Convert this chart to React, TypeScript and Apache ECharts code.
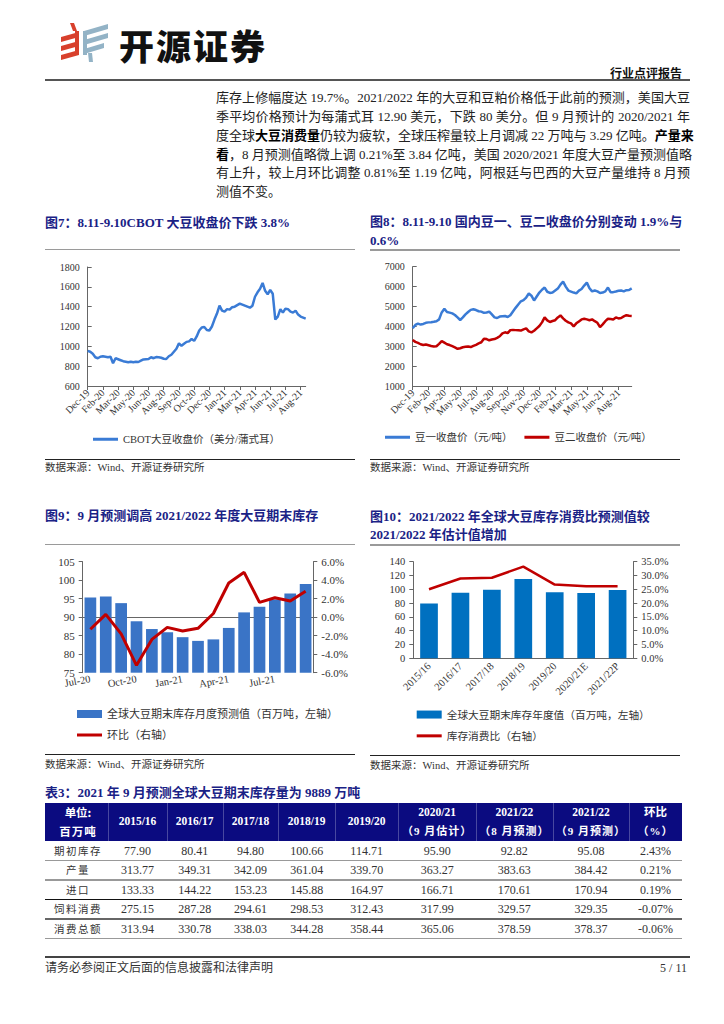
import React, { useEffect, useRef } from 'react';
import * as echarts from 'echarts';

const SERIF = "'Liberation Serif', 'Noto Sans CJK SC', serif";
const CJK = "'Noto Sans CJK SC', 'Liberation Serif', sans-serif";
const NAVY = '#1a2286';
const BLUE_LINE = '#3a7bd5';
const RED = '#c00000';

// ---------------- data ----------------
// 图7 CBOT 大豆收盘价
const cbotTicks = ['Dec-19', 'Feb-20', 'Mar-20', 'May-20', 'Jun-20', 'Aug-20', 'Sep-20', 'Oct-20', 'Dec-20', 'Jan-21', 'Mar-21', 'Apr-21', 'Jun-21', 'Jul-21', 'Aug-21'];
const cbotPrice = [
  955, 945, 925, 890, 880, 895, 900, 895, 890, 895,
  830, 880, 870, 860, 850, 845, 840, 845, 840, 845,
  842, 855, 868, 870, 872, 890, 880, 892, 890, 885,
  875, 872, 900, 915, 945, 975, 1030, 1005, 1025, 1045,
  1050, 1075, 1055, 1100, 1160, 1190, 1195, 1165, 1160, 1200,
  1270, 1330, 1410, 1360, 1350, 1375, 1370, 1395, 1400, 1415,
  1430, 1420, 1410, 1400, 1390, 1410, 1500, 1545, 1580, 1640,
  1560, 1525, 1570, 1530, 1270, 1300, 1375, 1340, 1380, 1375,
  1350, 1340, 1360, 1320, 1300, 1290, 1280,
];

// 图8 豆一、豆二收盘价
const dceTicks = ['Dec-19', 'Feb-20', 'Apr-20', 'May-20', 'Jul-20', 'Aug-20', 'Sep-20', 'Nov-20', 'Dec-20', 'Feb-21', 'Mar-21', 'May-21', 'Jun-21', 'Aug-21'];
const soyNo1 = [
  3900, 4070, 4140, 4090, 4120, 4180, 4200, 4210, 4230, 4260,
  4350, 4700, 4880, 4720, 4690, 4650, 4570, 4450, 4320, 4450,
  4600, 4720, 4830, 4860, 4820, 4760, 4740, 4680, 4700, 4740,
  4600, 4450, 4420, 4490, 4510, 4520, 4470, 4560, 4750, 4930,
  5100, 5260, 5320, 5450, 5650, 5540, 5300, 5500, 5700, 5840,
  5950, 5740, 5680, 5700, 5800, 5900, 6100, 6250, 6000, 5800,
  5750, 5700, 5660, 5800, 5880, 6050, 6200, 5920, 5760, 5800,
  5760, 5680, 5700, 5760, 5950, 5720, 5720, 5750, 5790, 5800,
  5760, 5820, 5830, 5910,
];
const soyNo2 = [
  3310, 3220, 3170, 3100, 3060, 3090, 3050, 3010, 2990, 3000,
  3120, 3260, 3180, 3100, 3060, 3000, 2940, 2870, 2900, 2950,
  2970, 2990, 2960, 3020, 3070, 3140, 3200, 3380, 3360, 3300,
  3340, 3360, 3420, 3500, 3650, 3700, 3660, 3810, 3820, 3810,
  3800, 3790, 3850, 3900, 3750, 3700, 3780, 3900, 4020, 4200,
  4450, 4300, 4220, 4270, 4310, 4450, 4550, 4400, 4280, 4200,
  4150, 4000, 4150, 4250, 4350, 4380, 4350, 4310, 4350, 4260,
  4180, 3960, 4100, 4260, 4380, 4370, 4350, 4450, 4400, 4420,
  4500, 4560, 4530, 4520,
];

// 图9 全球大豆期末库存月度预测
const stockMonths = ['Jul-20', 'Aug-20', 'Sep-20', 'Oct-20', 'Nov-20', 'Dec-20', 'Jan-21', 'Feb-21', 'Mar-21', 'Apr-21', 'May-21', 'Jun-21', 'Jul-21', 'Aug-21', 'Sep-21'];
const stockForecast = [95.3, 95.6, 93.8, 88.9, 86.8, 85.9, 84.6, 83.6, 84.0, 87.1, 91.3, 92.8, 94.8, 96.4, 99.0];
const stockMoM = [-1.3, 0.3, -1.8, -5.2, -2.4, -1.1, -1.5, -1.2, 0.4, 3.7, 4.85, 1.6, 2.1, 1.75, 2.8];

// 图10 全球大豆期末库存年度值 / 库存消费比
const seasons = ['2015/16', '2016/17', '2017/18', '2018/19', '2019/20', '2020/21E', '2021/22P'];
const seasonEndStock = [79.5, 95.0, 99.5, 114.8, 95.6, 94.8, 98.9];
const stockToUse = [25.0, 28.9, 29.2, 33.2, 26.7, 26.1, 26.1];

// 表3
const tableYears = ['2015/16', '2016/17', '2017/18', '2018/19', '2019/20', '2020/21', '2021/22', '2021/22', '环比'];
const tableYearNotes = ['', '', '', '', '', '（9 月估计）', '（8 月预测）', '（9 月预测）', '（%）'];
const tableRowNames = ['期初库存', '产量', '进口', '饲料消费', '消费总额'];
const beginStock = ['77.90', '80.41', '94.80', '100.66', '114.71', '95.90', '92.82', '95.08', '2.43%'];
const production = ['313.77', '349.31', '342.09', '361.04', '339.70', '363.27', '383.63', '384.42', '0.21%'];
const imports = ['133.33', '144.22', '153.23', '145.88', '164.97', '166.71', '170.61', '170.94', '0.19%'];
const feedUse = ['275.15', '287.28', '294.61', '298.53', '312.43', '317.99', '329.57', '329.35', '-0.07%'];
const totalUse = ['313.94', '330.78', '338.03', '344.28', '358.44', '365.06', '378.59', '378.37', '-0.06%'];
const tableRows = [beginStock, production, imports, feedUse, totalUse];

// ---------------- helpers ----------------
function EChart({ option, box }: any) {
  const ref = useRef<HTMLDivElement>(null);
  useEffect(() => {
    const chart = echarts.init(ref.current as HTMLDivElement, null, { renderer: 'svg' });
    chart.setOption(option);
    return () => chart.dispose();
  }, []);
  return (
    <div
      ref={ref}
      style={{ position: 'absolute', left: box[0], top: box[1], width: box[2], height: box[3] }}
    />
  );
}

function Txt({ x, y, size, children, weight = 400, color = '#222', align = 'left', w = 0, ls = 0, font = SERIF }: any) {
  const h = Math.round(size * 1.5);
  const st: any = {
    position: 'absolute', top: y - h / 2, height: h, lineHeight: h + 'px', fontSize: size,
    fontWeight: weight, color, fontFamily: font, whiteSpace: 'nowrap', letterSpacing: ls,
  };
  if (align === 'left') st.left = x;
  else if (align === 'right') st.right = 724 - x;
  else { st.left = x - w / 2; st.width = w; st.textAlign = 'center'; }
  return <div style={st}>{children}</div>;
}

function HLine({ x1, x2, y, t = 1, color = '#000' }: any) {
  return <div style={{ position: 'absolute', left: x1, top: y - t / 2, width: x2 - x1, height: t, background: color }} />;
}

const lbl = { fontFamily: SERIF, color: '#333', fontSize: 10 };
const axLine = { show: true, lineStyle: { color: '#666', width: 1 } };
const legendText = { fontFamily: SERIF, fontSize: 10.5, color: '#333' };
const plain = (v: number) => String(v);
const pct = (v: number) => v.toFixed(1) + '%';

function tickCats(n: number, ticks: string[], step: number) {
  return Array.from({ length: n }, (_, i) => (i % step === 0 && ticks[i / step] ? ticks[i / step] : ' ' + i));
}

const name7 = 'CBOT大豆收盘价（美分/蒲式耳）';
const name8a = '豆一收盘价（元/吨）';
const name8b = '豆二收盘价（元/吨）';
const name9a = '全球大豆期末库存月度预测值（百万吨，左轴）';
const name9b = '环比（右轴）';
const name10a = '全球大豆期末库存年度值（百万吨，左轴）';
const name10b = '库存消费比（右轴）';

const opt7 = {
  animation: false,
  grid: { left: 47.7, top: 15, width: 218, height: 119, outerBoundsMode: 'none' },
  xAxis: {
    type: 'category', boundaryGap: false, data: tickCats(cbotPrice.length, cbotTicks, 6),
    axisLine: axLine,
    axisTick: { interval: (i: number) => i % 6 === 0, length: 4, lineStyle: { color: '#666' } },
    axisLabel: { ...lbl, interval: (i: number) => i % 6 === 0, rotate: 45, margin: 5 },
  },
  yAxis: {
    type: 'value', min: 600, max: 1800, interval: 200, axisLine: axLine,
    axisTick: { show: true, inside: true, length: 4, lineStyle: { color: '#666' } },
    axisLabel: { ...lbl, margin: 8, formatter: plain }, splitLine: { show: false },
  },
  legend: { left: 53, top: 182, padding: 0, itemWidth: 25, itemHeight: 3, textStyle: legendText, data: [{ name: name7, icon: 'rect' }] },
  series: [{ name: name7, type: 'line', data: cbotPrice, symbol: 'none', lineStyle: { color: BLUE_LINE, width: 2.5 }, itemStyle: { color: BLUE_LINE } }],
};

const opt8 = {
  animation: false,
  grid: { left: 47.7, top: 14.7, width: 219, height: 119.3, outerBoundsMode: 'none' },
  xAxis: {
    type: 'category', boundaryGap: false, data: tickCats(soyNo1.length, dceTicks, 6),
    axisLine: axLine,
    axisTick: { interval: (i: number) => i % 6 === 0, length: 4, lineStyle: { color: '#666' } },
    axisLabel: { ...lbl, interval: (i: number) => i % 6 === 0, rotate: 45, margin: 5 },
  },
  yAxis: {
    type: 'value', min: 1000, max: 7000, interval: 1000, axisLine: axLine,
    axisTick: { show: true, inside: true, length: 4, lineStyle: { color: '#666' } },
    axisLabel: { ...lbl, margin: 8, formatter: plain }, splitLine: { show: false },
  },
  legend: {
    left: 20, top: 180, padding: 0, itemWidth: 25, itemHeight: 3, itemGap: 12, textStyle: legendText,
    data: [{ name: name8a, icon: 'rect' }, { name: name8b, icon: 'rect' }],
  },
  series: [
    { name: name8a, type: 'line', data: soyNo1, symbol: 'none', lineStyle: { color: BLUE_LINE, width: 2.5 }, itemStyle: { color: BLUE_LINE } },
    { name: name8b, type: 'line', data: soyNo2, symbol: 'none', lineStyle: { color: RED, width: 2.5 }, itemStyle: { color: RED } },
  ],
};

const opt9 = {
  animation: false,
  grid: { left: 42.7, top: 13.7, width: 230.6, height: 111, outerBoundsMode: 'none' },
  xAxis: {
    type: 'category', data: stockMonths, axisLine: axLine, axisTick: { show: false },
    axisLabel: { ...lbl, fontSize: 10.5, interval: 2, rotate: 10, margin: 6 },
  },
  yAxis: [
    {
      type: 'value', min: 75, max: 105, interval: 5, axisLine: axLine,
      axisTick: { show: true, length: 4, lineStyle: { color: '#666' } },
      axisLabel: { ...lbl, fontSize: 11, margin: 8, formatter: plain }, splitLine: { show: false },
    },
    {
      type: 'value', position: 'right', min: -6, max: 6, interval: 2, axisLine: axLine,
      axisTick: { show: true, length: 4, lineStyle: { color: '#666' } },
      axisLabel: { ...lbl, fontSize: 11, margin: 8, formatter: pct }, splitLine: { show: false },
    },
  ],
  legend: [
    {
      left: 37, top: 160.5, padding: 0, itemWidth: 25, itemHeight: 8,
      textStyle: { ...legendText, fontSize: 11 }, data: [{ name: name9a, icon: 'rect' }],
    },
    {
      left: 37, top: 181.5, padding: 0, itemWidth: 25, itemHeight: 3,
      textStyle: { ...legendText, fontSize: 11 }, data: [{ name: name9b, icon: 'rect' }],
    },
  ],
  series: [
    { name: name9a, type: 'bar', data: stockForecast, barWidth: 11.7, itemStyle: { color: '#3a74c6' } },
    { name: name9b, type: 'line', yAxisIndex: 1, data: stockMoM, symbol: 'none', lineStyle: { color: RED, width: 3 }, itemStyle: { color: RED } },
  ],
};

const opt10 = {
  animation: false,
  grid: { left: 48.3, top: 13.7, width: 220, height: 96.6, outerBoundsMode: 'none' },
  xAxis: {
    type: 'category', data: seasons, axisLine: axLine, axisTick: { show: false },
    axisLabel: { ...lbl, fontSize: 10.5, interval: 0, rotate: 45, margin: 6 },
  },
  yAxis: [
    {
      type: 'value', min: 0, max: 140, interval: 20, axisLine: axLine,
      axisTick: { show: true, length: 4, lineStyle: { color: '#666' } },
      axisLabel: { ...lbl, fontSize: 10.5, margin: 8, formatter: plain }, splitLine: { show: false },
    },
    {
      type: 'value', position: 'right', min: 0, max: 35, interval: 5, axisLine: axLine,
      axisTick: { show: true, length: 4, lineStyle: { color: '#666' } },
      axisLabel: { ...lbl, fontSize: 10.5, margin: 8, formatter: pct }, splitLine: { show: false },
    },
  ],
  legend: [
    {
      left: 51.7, top: 161.2, padding: 0, itemWidth: 25, itemHeight: 8,
      textStyle: { ...legendText, fontSize: 10.7 }, data: [{ name: name10a, icon: 'rect' }],
    },
    {
      left: 51.7, top: 182.5, padding: 0, itemWidth: 25, itemHeight: 3,
      textStyle: { ...legendText, fontSize: 10.7 }, data: [{ name: name10b, icon: 'rect' }],
    },
  ],
  series: [
    { name: name10a, type: 'bar', data: seasonEndStock, barWidth: 17.7, itemStyle: { color: '#0070c0' } },
    { name: name10b, type: 'line', yAxisIndex: 1, data: stockToUse, symbol: 'none', lineStyle: { color: RED, width: 2.5 }, itemStyle: { color: RED } },
  ],
};

const colEdges = [45, 108.3, 166.7, 222.7, 278.3, 335, 398.3, 476, 552.7, 629.3, 681.7];
const rowSepColors = ['#999', '#999', '#111', '#666', '#999'];

function ParaLine({ y, children, last = false }: any) {
  return (
    <div
      style={{
        position: 'absolute', left: 216, top: y - 9.45, width: 474, height: 18.9, lineHeight: '18.9px',
        fontSize: 13, fontFamily: SERIF, color: '#222', whiteSpace: 'nowrap',
        textAlign: last ? 'left' : 'justify', textAlignLast: last ? 'left' : 'justify',
      } as any}
    >
      {children}
    </div>
  );
}

export default function App() {
  const B = (s: string) => <b style={{ fontWeight: 700, color: '#000' }}>{s}</b>;
  return (
    <div style={{ position: 'absolute', left: 0, top: 0, width: 724, height: 1024, background: '#fff', overflow: 'hidden' }}>
      {/* header logo */}
      <svg width={724} height={100} style={{ position: 'absolute', left: 0, top: 0 }}>
        <g fill="#d8402c">
          <polygon points="70,23 74,23 77,31 73,31" />
          <polygon points="61,37 79,32 79,37 61,42" />
          <polygon points="61,46 79,41 79,46 61,51" />
          <polygon points="61,55 79,50 79,55 61,60" />
          <polygon points="75,31 79,31 79,52 75,52" />
        </g>
        <g fill="#93b3c6">
          <polygon points="84,31 108,24 108,29 84,36" />
          <polygon points="84,40 108,33 108,38 84,45" />
          <polygon points="84,49 104,43 104,48 84,54" />
          <polygon points="83,31 87,31 87,55 83,55" />
          <polygon points="88,53 92,53 93,62 89,62" />
        </g>
      </svg>
      <Txt x={119} y={44} size={35} weight={900} color="#111" font={CJK} ls={2}>开源证券</Txt>
      <Txt x={682} y={73} size={12} weight={700} color="#111" font={CJK} align="right">行业点评报告</Txt>
      <HLine x1={45} x2={690} y={80} t={1.5} color="#555" />

      {/* paragraph */}
      <ParaLine y={98.3}>库存上修幅度达 19.7%。2021/2022 年的大豆和豆粕价格低于此前的预测，美国大豆</ParaLine>
      <ParaLine y={117.2}>季平均价格预计为每蒲式耳 12.90 美元，下跌 80 美分。但 9 月预计的 2020/2021 年</ParaLine>
      <ParaLine y={136.1}>度全球{B('大豆消费量')}仍较为疲软，全球压榨量较上月调减 22 万吨与 3.29 亿吨。{B('产量来')}</ParaLine>
      <ParaLine y={155}>{B('看')}，8 月预测值略微上调 0.21%至 3.84 亿吨，美国 2020/2021 年度大豆产量预测值略</ParaLine>
      <ParaLine y={173.9}>有上升，较上月环比调整 0.81%至 1.19 亿吨，阿根廷与巴西的大豆产量维持 8 月预</ParaLine>
      <ParaLine y={192.8} last>测值不变。</ParaLine>

      {/* chart titles row 1 */}
      <Txt x={45} y={223} size={13} weight={700} color={NAVY}>图7：8.11-9.10CBOT 大豆收盘价下跌 3.8%</Txt>
      <Txt x={370} y={222} size={13} weight={700} color={NAVY}>图8：8.11-9.10 国内豆一、豆二收盘价分别变动 1.9%与</Txt>
      <Txt x={370} y={241} size={13} weight={700} color={NAVY}>0.6%</Txt>
      <HLine x1={45} x2={355} y={249.3} t={1.5} color="#9a9a9a" />
      <HLine x1={370} x2={680} y={250} t={1.5} color="#9a9a9a" />

      <EChart option={opt7} box={[40, 252, 320, 205]} />
      <EChart option={opt8} box={[365, 252, 320, 205]} />

      <HLine x1={45} x2={355} y={459} t={1} color="#222" />
      <HLine x1={370} x2={680} y={459} t={1} color="#222" />
      <Txt x={45} y={468} size={10.5} color="#333">数据来源：Wind、开源证券研究所</Txt>
      <Txt x={370} y={468} size={10.5} color="#333">数据来源：Wind、开源证券研究所</Txt>

      {/* chart titles row 2 */}
      <Txt x={45} y={516} size={13} weight={700} color={NAVY}>图9：9 月预测调高 2021/2022 年度大豆期末库存</Txt>
      <Txt x={370} y={517} size={13} weight={700} color={NAVY}>图10：2021/2022 年全球大豆库存消费比预测值较</Txt>
      <Txt x={370} y={535} size={13} weight={700} color={NAVY}>2021/2022 年估计值增加</Txt>
      <HLine x1={45} x2={355} y={544.3} t={1.5} color="#9a9a9a" />
      <HLine x1={370} x2={680} y={545} t={1.5} color="#9a9a9a" />

      <EChart option={opt9} box={[40, 548, 320, 205]} />
      <EChart option={opt10} box={[365, 548, 320, 205]} />

      <HLine x1={45} x2={355} y={754} t={1} color="#222" />
      <HLine x1={370} x2={680} y={755} t={1} color="#222" />
      <Txt x={45} y={765} size={10.5} color="#333">数据来源：Wind、开源证券研究所</Txt>
      <Txt x={370} y={766} size={10.5} color="#333">数据来源：Wind、开源证券研究所</Txt>

      {/* table */}
      <Txt x={45} y={793.3} size={13} weight={700} color={NAVY}>表3：2021 年 9 月预测全球大豆期末库存量为 9889 万吨</Txt>
      <div style={{ position: 'absolute', left: 45, top: 802.7, width: 681.7 - 45, height: 38.3, background: '#0b0b80' }} />
      {colEdges.slice(1, -1).map((x, i) => (
        <div key={'vs' + i} style={{ position: 'absolute', left: x, top: 802.7, width: 1, height: 38.3, background: 'rgba(255,255,255,0.25)' }} />
      ))}
      <Txt x={78} y={812.7} size={11.5} weight={700} color="#fff" align="center" w={60} font={CJK}>单位:</Txt>
      <Txt x={78} y={831.7} size={11.5} weight={700} color="#fff" align="center" w={60} font={CJK} ls={1}>百万吨</Txt>
      {tableYears.map((t, i) => {
        const cx = (colEdges[i + 1] + colEdges[i + 2]) / 2;
        const w = colEdges[i + 2] - colEdges[i + 1];
        if (!tableYearNotes[i]) {
          return <Txt key={'h' + i} x={cx} y={821.7} size={11.5} weight={700} color="#fff" align="center" w={w}>{t}</Txt>;
        }
        return (
          <React.Fragment key={'h' + i}>
            <Txt x={cx} y={812.7} size={11.5} weight={700} color="#fff" align="center" w={w}>{t}</Txt>
            <Txt x={cx} y={831.7} size={11} weight={700} color="#fff" align="center" w={w} ls={1}>{tableYearNotes[i]}</Txt>
          </React.Fragment>
        );
      })}
      {tableRows.map((row, r) => {
        const yc = 850.75 + r * 19.5;
        return (
          <React.Fragment key={'r' + r}>
            <Txt x={78} y={yc} size={10.5} color="#333" align="center" w={62} font={CJK} ls={1.5}>{tableRowNames[r]}</Txt>
            {row.map((v, c) => {
              const cx = (colEdges[c + 1] + colEdges[c + 2]) / 2;
              const w = colEdges[c + 2] - colEdges[c + 1];
              return <Txt key={'c' + c} x={cx} y={yc} size={12} color="#333" align="center" w={w}>{v}</Txt>;
            })}
            <HLine x1={45} x2={681.7} y={yc + 9.75} t={1.3} color={rowSepColors[r]} />
          </React.Fragment>
        );
      })}

      {/* footer */}
      <HLine x1={45} x2={690} y={957} t={2} color="#444" />
      <Txt x={45} y={968} size={12} color="#333">请务必参阅正文后面的信息披露和法律声明</Txt>
      <Txt x={687} y={968} size={12} color="#333" align="right">5 / 11</Txt>
    </div>
  );
}
